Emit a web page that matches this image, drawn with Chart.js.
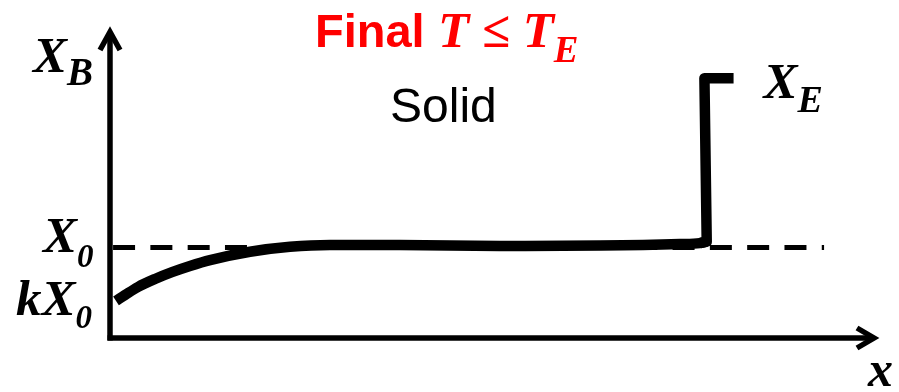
<!DOCTYPE html>
<html>
<head>
<meta charset="utf-8">
<title>Final T ≤ TE – solid profile</title>
<script src="https://cdn.jsdelivr.net/npm/chart.js@4.4.1/dist/chart.umd.min.js"></script>
<style>
  html, body { margin: 0; padding: 0; background: #fff; }
  #wrap { width: 899px; height: 392px; }
</style>
</head>
<body>
<div id="wrap"><canvas id="profileChart" width="899" height="392"></canvas></div>
<script>
// Composition X_B along x (arbitrary units, both axes 0..100)
const X0 = 29.3;
const K = 0.41;
const XE = 84.1;

// smooth part of the solid profile, from kX0 up to the plateau
const profileX = [0.78, 1.96, 3.65, 5.87, 8.08, 10.43, 13.04, 18.25, 23.47, 28.68, 37.8, 50.8, 63.9, 74.3, 76.9, 77.8];
const profileY = [12.0, 13.9, 16.5, 19.1, 21.3, 23.3, 25.2, 27.9, 29.5, 30.1, 30.1, 29.8, 29.9, 30.4, 30.7, 31.2];

// last liquid freezes at the eutectic: jump up to XE
const stepX = [76.9, 77.8, 77.5, 81.3];
const stepY = [30.7, 31.2, XE, XE];

const refX = [0.4, 93.1];
const refY = [X0, X0];

const SERIF = '"Liberation Serif", "Times New Roman", serif';
const SANS = '"Liberation Sans", Arial, sans-serif';

function toPoints(xs, ys) {
    return xs.map((x, i) => ({ x: x, y: ys[i] }));
}

// main symbol followed by a lowered subscript, both bold italic serif
function drawSymbol(ctx, x, y, main, sub, size, subSize, drop) {
    ctx.font = 'italic bold ' + size + 'px ' + SERIF;
    ctx.fillText(main, x, y);
    const w = ctx.measureText(main).width;
    ctx.font = 'italic bold ' + subSize + 'px ' + SERIF;
    ctx.fillText(sub, x + w, y + drop);
    return x + w + ctx.measureText(sub).width;
}

function arrowLine(ctx, x1, y1, x2, y2, along, across) {
    const ang = Math.atan2(y2 - y1, x2 - x1);
    const c = Math.cos(ang), s = Math.sin(ang);
    ctx.beginPath();
    ctx.moveTo(x1, y1);
    ctx.lineTo(x2, y2);
    ctx.stroke();
    ctx.beginPath();
    ctx.moveTo(x2 - along * c - across * s, y2 - along * s + across * c);
    ctx.lineTo(x2, y2);
    ctx.lineTo(x2 - along * c + across * s, y2 - along * s - across * c);
    ctx.stroke();
}

const axesPlugin = {
    id: 'axesArrows',
    beforeDatasetsDraw(chart) {
        const ctx = chart.ctx;
        const a = chart.chartArea;
        ctx.save();
        ctx.strokeStyle = '#000';
        ctx.lineWidth = 5.5;
        ctx.lineCap = 'butt';
        ctx.lineJoin = 'miter';
        arrowLine(ctx, a.left, a.bottom + 2.5, a.left, a.top + 3, 18, 10);
        arrowLine(ctx, a.left - 2.5, a.bottom, a.right - 3, a.bottom, 17, 10);
        ctx.restore();
    },
    afterDraw(chart) {
        const ctx = chart.ctx;
        const a = chart.chartArea;
        const ys = chart.scales.y;
        const xs = chart.scales.x;
        ctx.save();
        ctx.fillStyle = '#000';
        ctx.textBaseline = 'alphabetic';
        ctx.textAlign = 'left';

        // y-axis symbols
        drawSymbol(ctx, a.left - 77, a.top + 43, 'X', 'B', 51, 39, 13);
        drawSymbol(ctx, a.left - 67, ys.getPixelForValue(X0) + 5, 'X', '0', 51, 33, 15);
        drawSymbol(ctx, a.left - 94, ys.getPixelForValue(K * X0) + 14, 'kX', '0', 51, 33, 13);

        // equilibrium level at the right end of the profile
        drawSymbol(ctx, xs.getPixelForValue(85.2), ys.getPixelForValue(XE) + 20, 'X', 'E', 51, 38, 14);

        // x-axis symbol
        ctx.font = 'italic bold 50px ' + SERIF;
        ctx.fillText('x', a.right - 9, a.bottom + 48);

        // region label
        ctx.font = '48px ' + SANS;
        ctx.fillText('Solid', 390, 122);

        // heading
        ctx.fillStyle = '#ff0000';
        ctx.font = 'bold 47px ' + SANS;
        ctx.fillText('Final', 315, 47);
        drawSymbol(ctx, 438, 47, 'T \u2264 T', 'E', 51, 37, 15);
        ctx.restore();
    }
};

const ctx = document.getElementById('profileChart');
new Chart(ctx, {
    type: 'line',
    data: {
        datasets: [
            {
                label: 'X0 reference',
                data: toPoints(refX, refY),
                borderColor: '#000',
                borderWidth: 5,
                borderDash: [22, 15.3],
                pointRadius: 0,
                tension: 0
            },
            {
                label: 'Solid composition',
                data: toPoints(profileX, profileY),
                borderColor: '#000',
                borderWidth: 10.5,
                borderCapStyle: 'butt',
                cubicInterpolationMode: 'monotone',
                pointRadius: 0
            },
            {
                label: 'Eutectic step',
                data: toPoints(stepX, stepY),
                borderColor: '#000',
                borderWidth: 10.5,
                borderJoinStyle: 'round',
                borderCapStyle: 'butt',
                pointRadius: 0,
                tension: 0
            }
        ]
    },
    options: {
        responsive: false,
        animation: false,
        layout: { padding: { left: 110, right: 22, top: 29, bottom: 54 } },
        plugins: {
            legend: { display: false },
            tooltip: { enabled: false },
            title: { display: false }
        },
        scales: {
            x: { type: 'linear', min: 0, max: 100, display: false },
            y: { type: 'linear', min: 0, max: 100, display: false }
        }
    },
    plugins: [axesPlugin]
});
</script>
</body>
</html>
